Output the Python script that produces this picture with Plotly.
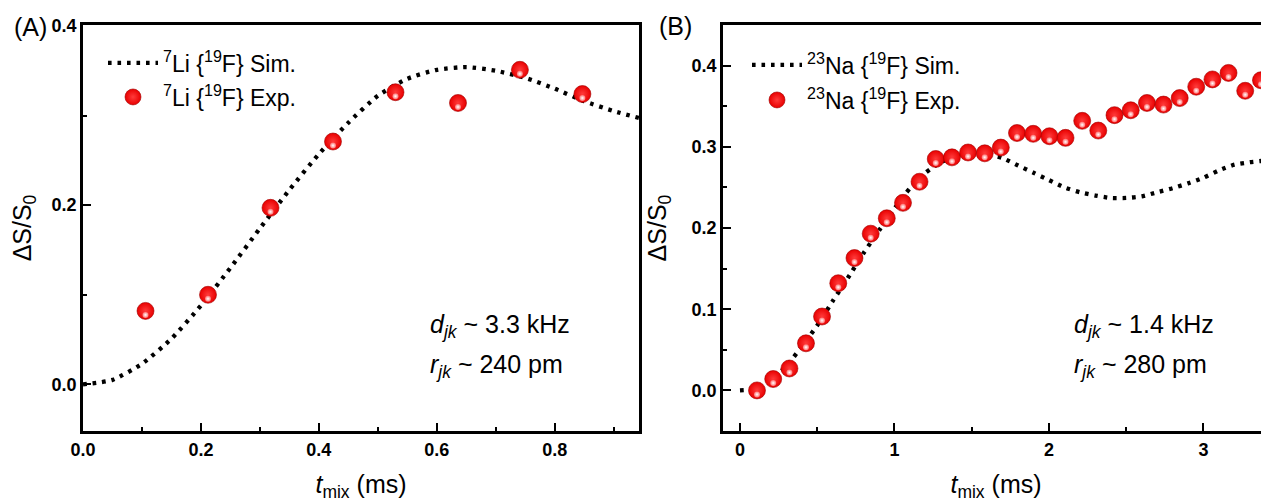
import plotly.graph_objects as go

# ---------------- data ----------------
# Panel A: 7Li{19F}
a_sim_t = [0.0, 0.05, 0.10, 0.15, 0.20, 0.25, 0.30, 0.35, 0.40, 0.45, 0.50,
           0.55, 0.60, 0.65, 0.70, 0.75, 0.80, 0.85, 0.90, 0.95]
a_sim_s = [0.0, 0.005, 0.023, 0.051, 0.088, 0.130, 0.174, 0.217, 0.257, 0.292, 0.322,
           0.341, 0.351, 0.354, 0.350, 0.342, 0.330, 0.316, 0.305, 0.296]
a_exp_t = [0.106, 0.212, 0.318, 0.424, 0.530, 0.636, 0.741, 0.847]
a_exp_s = [0.082, 0.100, 0.197, 0.271, 0.326, 0.314, 0.351, 0.324]

# Panel B: 23Na{19F}
b_sim_t = [0.0, 0.1, 0.2, 0.3, 0.4, 0.5, 0.6, 0.7, 0.8, 0.9, 1.0, 1.1, 1.2, 1.3,
           1.4, 1.5, 1.6, 1.7, 1.8, 1.9, 2.0, 2.1, 2.2, 2.3, 2.4, 2.5, 2.6, 2.7,
           2.8, 2.9, 3.0, 3.1, 3.2, 3.3, 3.4, 3.45]
b_sim_s = [0.0, 0.002, 0.012, 0.030, 0.054, 0.080, 0.110, 0.139, 0.169, 0.197, 0.224,
           0.249, 0.268, 0.281, 0.289, 0.293, 0.291, 0.286, 0.277, 0.268, 0.259,
           0.250, 0.244, 0.240, 0.237, 0.237, 0.239, 0.244, 0.249, 0.255, 0.262,
           0.271, 0.278, 0.281, 0.283, 0.284]
b_exp_t = [0.110, 0.215, 0.320, 0.427, 0.531, 0.636, 0.741, 0.846, 0.950, 1.055,
           1.162, 1.267, 1.372, 1.476, 1.584, 1.688, 1.793, 1.898, 2.003, 2.107,
           2.215, 2.319, 2.424, 2.529, 2.634, 2.741, 2.846, 2.953, 3.058, 3.162,
           3.270, 3.372]
b_exp_s = [0.000, 0.014, 0.027, 0.058, 0.091, 0.132, 0.163, 0.193, 0.212, 0.231,
           0.257, 0.285, 0.287, 0.293, 0.292, 0.299, 0.317, 0.316, 0.313, 0.311,
           0.332, 0.320, 0.339, 0.345, 0.354, 0.352, 0.360, 0.374, 0.383, 0.391,
           0.369, 0.382]

a_sim_name = "<sup>7</sup>Li {<sup>19</sup>F} Sim."
a_exp_name = "<sup>7</sup>Li {<sup>19</sup>F} Exp."
b_sim_name = "<sup>23</sup>Na {<sup>19</sup>F} Sim."
b_exp_name = "<sup>23</sup>Na {<sup>19</sup>F} Exp."

# ---------------- figure geometry ----------------
# page body has an 8px margin: figure is sized so it fits the 1269x502 window
OFF = 8
W, H = 1269 - OFF, 502 - OFF

def px_x(X):  # screen px -> paper
    return (X - OFF) / W

def px_y(Y):
    return 1 - (Y - OFF) / H

FONT = "Liberation Sans, Arial, sans-serif"
fig = go.Figure()

dot_line = dict(color="black", width=4.3, dash="3.6px,5.9px", shape="spline", smoothing=0.6)
sphere = dict(size=17, color="#e80000", line=dict(width=0.6, color="#a00000"),
              gradient=dict(type="radial", color="#ff3b3b"))
highlight = dict(size=6, color="#ff7070", gradient=dict(type="radial", color="white"),
                 angle=0, standoff=4, line=dict(width=0))

def add_panel(xs, ys, xe, ye, sname, ename, xa, ya, lg1, lg2):
    fig.add_trace(go.Scatter(x=xs, y=ys, mode="lines", line=dot_line, name=sname,
                             xaxis=xa, yaxis=ya, legend=lg1))
    fig.add_trace(go.Scatter(x=xe, y=ye, mode="markers", marker=sphere, name=ename,
                             xaxis=xa, yaxis=ya, legend=lg2))
    fig.add_trace(go.Scatter(x=xe, y=ye, mode="markers", marker=highlight,
                             showlegend=False, hoverinfo="skip", xaxis=xa, yaxis=ya))

add_panel(a_sim_t, a_sim_s, a_exp_t, a_exp_s, a_sim_name, a_exp_name, "x", "y", "legend", "legend2")
add_panel(b_sim_t, b_sim_s, b_exp_t, b_exp_s, b_sim_name, b_exp_name, "x2", "y2", "legend3", "legend4")

def ax(**kw):
    d = dict(showline=True, linewidth=2.8, linecolor="black", mirror=True,
             ticks="inside", ticklen=8, tickwidth=2.4, tickcolor="black",
             showgrid=False, zeroline=False, automargin=False,
             tickfont=dict(family=FONT, size=18, color="black", weight="bold"))
    d.update(kw)
    return d

minor = lambda dt: dict(ticks="inside", ticklen=4, tickwidth=2.4, dtick=dt, tickcolor="black")
ydom = [px_y(431), px_y(25)]
xtitle = "<i>t</i><sub>mix</sub> (ms)"
ytitle = "ΔS/S<sub>0</sub>"
tfont = dict(family=FONT, size=25, color="black")

fig.update_layout(
    width=W, height=H, margin=dict(l=0, r=0, t=0, b=0),
    paper_bgcolor="white", plot_bgcolor="white", template="none",
    font=dict(family=FONT, color="black"),
    xaxis=ax(domain=[px_x(83), px_x(639)], range=[0, 0.943], dtick=0.2, tick0=0,
             tickformat=".1f", anchor="y", minor=minor(0.1),
             title=dict(text=xtitle, font=tfont, standoff=18)),
    yaxis=ax(domain=ydom, range=[-0.052, 0.401], dtick=0.2, tick0=0, tickformat=".1f",
             anchor="x", minor=minor(0.1),
             title=dict(text=ytitle, font=tfont, standoff=18)),
    xaxis2=ax(domain=[px_x(723), 1.0], range=[-0.11, 3.424], dtick=1, tick0=0,
              anchor="y2", minor=minor(0.5),
              title=dict(text=xtitle, font=tfont, standoff=18)),
    yaxis2=ax(domain=ydom, range=[-0.05, 0.45], dtick=0.1, tick0=0, tickformat=".1f",
              anchor="x2", minor=minor(0.05),
              title=dict(text=ytitle, font=tfont, standoff=18)),
)

leg_common = dict(bgcolor="rgba(0,0,0,0)", borderwidth=0, xanchor="left", yanchor="middle",
                  font=dict(family=FONT, size=23, color="black"), itemwidth=50)
fig.update_layout(
    legend=dict(leg_common, x=px_x(103), y=px_y(63)),
    legend2=dict(leg_common, x=px_x(103), y=px_y(97)),
    legend3=dict(leg_common, x=px_x(747), y=px_y(65)),
    legend4=dict(leg_common, x=px_x(747), y=px_y(100)),
)

ann_font = dict(family=FONT, size=25, color="black")
annotations = [
    dict(text="(A)", x=px_x(12), y=px_y(27), xref="paper", yref="paper",
         xanchor="left", yanchor="middle", showarrow=False, font=ann_font),
    dict(text="(B)", x=px_x(657), y=px_y(26), xref="paper", yref="paper",
         xanchor="left", yanchor="middle", showarrow=False, font=ann_font),
    dict(text="<i>d</i><sub><i>jk</i></sub> ~ 3.3 kHz", x=0.62, y=(431 - 326) / 406,
         xref="x domain", yref="y domain", xanchor="left", yanchor="middle",
         showarrow=False, font=ann_font),
    dict(text="<i>r</i><sub><i>jk</i></sub> ~ 240 pm", x=0.62, y=(431 - 366) / 406,
         xref="x domain", yref="y domain", xanchor="left", yanchor="middle",
         showarrow=False, font=ann_font),
    dict(text="<i>d</i><sub><i>jk</i></sub> ~ 1.4 kHz", x=0.639, y=(431 - 326) / 406,
         xref="x2 domain", yref="y2 domain", xanchor="left", yanchor="middle",
         showarrow=False, font=ann_font),
    dict(text="<i>r</i><sub><i>jk</i></sub> ~ 280 pm", x=0.639, y=(431 - 366) / 406,
         xref="x2 domain", yref="y2 domain", xanchor="left", yanchor="middle",
         showarrow=False, font=ann_font),
]
fig.update_layout(annotations=annotations)

fig.write_html("out.html")
